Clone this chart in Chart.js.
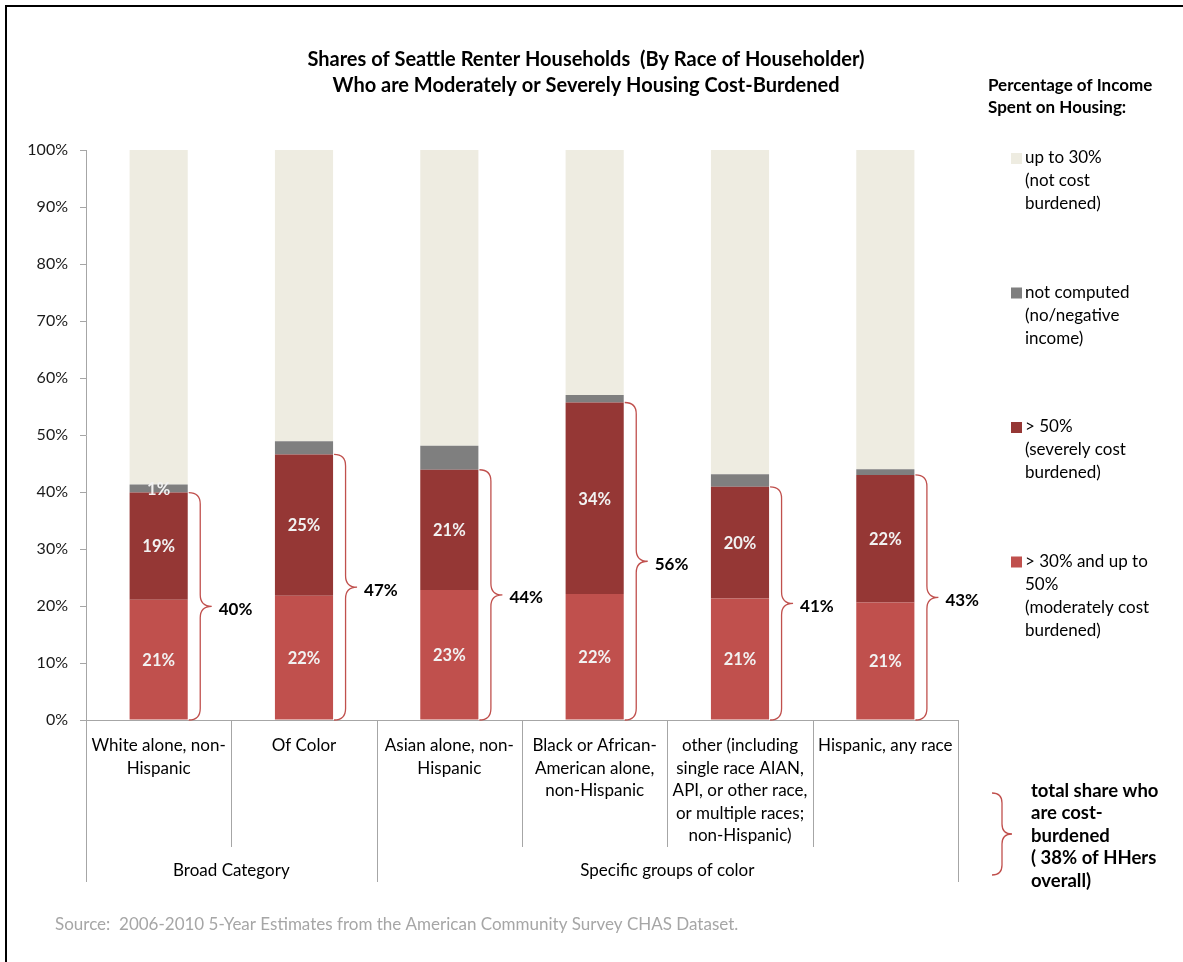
<!DOCTYPE html>
<html>
<head>
<meta charset="utf-8">
<script src="https://cdn.jsdelivr.net/npm/chart.js@4.4.1/dist/chart.umd.min.js"></script>
<style>
  html, body { margin: 0; padding: 0; background: #fff; }
  canvas { display: block; }
</style>
</head>
<body>
<canvas id="myChart" width="1183" height="962"></canvas>
<script>
// Data
const categories = [
	["White alone, non-", "Hispanic"],
	["Of Color"],
	["Asian alone, non-", "Hispanic"],
	["Black or African-", "American alone,", "non-Hispanic"],
	["other (including", "single race AIAN,", "API, or other race,", "or multiple races;", "non-Hispanic)"],
	["Hispanic, any race"],
];
const groups = ["Broad Category", "Specific groups of color"];
const groupSizes = [2, 4];

const moderate = [21.1, 21.8, 22.8, 22.1, 21.3, 20.6];
const severe = [18.8, 24.8, 21.1, 33.6, 19.6, 22.4];
const notComputed = [1.4, 2.3, 4.2, 1.3, 2.2, 1.0];
const upTo30 = moderate.map((m, i) => 100 - m - severe[i] - notComputed[i]);
const notComputedLabels = ["1%", "", "", "", "", ""];

const yTicks = [0, 10, 20, 30, 40, 50, 60, 70, 80, 90, 100];

const legendTitle = ["Percentage of Income", "Spent on Housing:"];
const legendLabels = [
	["up to 30%", "(not cost", "burdened)"],
	["not computed", "(no/negative", "income)"],
	["> 50%", "(severely cost", "burdened)"],
	["> 30% and up to", "50%", "(moderately cost", "burdened)"],
];
const braceNote = ["total share who", "are cost-", "burdened", "( 38% of HHers", "overall)"];
const titleLines = [
	"Shares of Seattle Renter Households  (By Race of Householder)",
	"Who are Moderately or Severely Housing Cost-Burdened",
];
const sourceText = "Source:  2006-2010 5-Year Estimates from the American Community Survey CHAS Dataset.";

const colors = {
	upTo30: "#EEECE1",
	notComputed: "#7F7F7F",
	severe: "#953735",
	moderate: "#C0504D",
};
const FONT = "Lato, 'Open Sans', sans-serif";

// draws a curly brace opening to the left
function drawBrace(ctx, x, y1, y2, w) {
	const r = w / 2;
	const ym = (y1 + y2) / 2;
	ctx.beginPath();
	ctx.moveTo(x, y1);
	ctx.quadraticCurveTo(x + r, y1, x + r, y1 + r);
	ctx.lineTo(x + r, ym - r);
	ctx.quadraticCurveTo(x + r, ym, x + w, ym);
	ctx.quadraticCurveTo(x + r, ym, x + r, ym + r);
	ctx.lineTo(x + r, y2 - r);
	ctx.quadraticCurveTo(x + r, y2, x, y2);
	ctx.stroke();
}

const extras = {
	id: "extras",
	afterDraw(chart) {
		const ctx = chart.ctx;
		const area = chart.chartArea;
		const xs = chart.scales.x;
		const ys = chart.scales.y;
		const step = (area.right - area.left) / categories.length;
		ctx.save();

		// frame (top and left edges)
		ctx.fillStyle = "#000";
		ctx.fillRect(5, 5, 1183, 2);
		ctx.fillRect(5, 5, 2, 962);

		// title
		ctx.fillStyle = "#000";
		ctx.font = "bold 20px " + FONT;
		ctx.textAlign = "center";
		ctx.textBaseline = "middle";
		ctx.fillText(titleLines[0], 586, 60);
		ctx.fillText(titleLines[1], 586, 86);

		// category axis table
		ctx.strokeStyle = "#A6A6A6";
		ctx.lineWidth = 1;
		ctx.beginPath();
		ctx.moveTo(area.left, area.bottom + 0.5);
		ctx.lineTo(area.right, area.bottom + 0.5);
		let idx = 0;
		const outer = [0];
		groupSizes.forEach((n) => { idx += n; outer.push(idx); });
		for (let i = 0; i <= categories.length; i++) {
			const x = Math.round(area.left + i * step) + 0.5;
			ctx.moveTo(x, area.bottom);
			ctx.lineTo(x, outer.includes(i) ? 882 : 847);
		}
		ctx.stroke();

		ctx.fillStyle = "#000";
		ctx.font = "17px " + FONT;
		categories.forEach((lines, i) => {
			const cx = xs.getPixelForValue(i);
			lines.forEach((t, j) => ctx.fillText(t, cx, 746 + j * 22.4));
		});
		let start = 0;
		groups.forEach((g, k) => {
			const x0 = area.left + start * step;
			const x1 = area.left + (start + groupSizes[k]) * step;
			ctx.fillText(g, (x0 + x1) / 2, 871);
			start += groupSizes[k];
		});

		// data labels inside bars
		ctx.font = "bold 16.5px " + FONT;
		ctx.fillStyle = "#F2F2F2";
		[0, 1].forEach((d) => {
			chart.getDatasetMeta(d).data.forEach((bar, i) => {
				const v = chart.data.datasets[d].data[i];
				ctx.fillText(Math.round(v) + "%", bar.x, (bar.y + bar.base) / 2 + 1);
			});
		});
		chart.getDatasetMeta(2).data.forEach((bar, i) => {
			if (notComputedLabels[i]) ctx.fillText(notComputedLabels[i], bar.x, (bar.y + bar.base) / 2 + 1);
		});

		// braces and totals
		ctx.strokeStyle = "#C0504D";
		ctx.lineWidth = 1.3;
		ctx.textAlign = "left";
		ctx.fillStyle = "#000";
		ctx.font = "bold 17px " + FONT;
		chart.getDatasetMeta(1).data.forEach((bar, i) => {
			const xr = bar.x + bar.width / 2;
			const top = bar.y;
			const bottom = ys.getPixelForValue(0);
			drawBrace(ctx, xr + 1, top, bottom, 23);
			const total = Math.round(moderate[i] + severe[i]);
			ctx.fillText(total + "%", xr + 31, (top + bottom) / 2 + 3);
		});

		// legend
		ctx.font = "bold 17px " + FONT;
		ctx.fillText(legendTitle[0], 988, 86);
		ctx.fillText(legendTitle[1], 988, 108);
		const swatch = [colors.upTo30, colors.notComputed, colors.severe, colors.moderate];
		ctx.font = "17px " + FONT;
		legendLabels.forEach((lines, k) => {
			const y0 = 158 + k * 134.5;
			ctx.fillStyle = swatch[k];
			ctx.fillRect(1011, y0 - 5, 11, 11);
			ctx.fillStyle = "#000";
			lines.forEach((t, j) => ctx.fillText(t, 1025, y0 + j * 23));
		});

		// note brace at bottom right
		drawBrace(ctx, 992, 793, 875, 20);
		ctx.font = "bold 18.5px " + FONT;
		braceNote.forEach((t, j) => ctx.fillText(t, 1031, 791 + j * 22.5));

		// source
		ctx.font = "17px " + FONT;
		ctx.fillStyle = "#A6A6A6";
		ctx.fillText(sourceText, 55, 925);

		ctx.restore();
	},
};

const data = {
	labels: categories,
	datasets: [
		{ label: "> 30% and up to 50% (moderately cost burdened)", data: moderate, backgroundColor: colors.moderate },
		{ label: "> 50% (severely cost burdened)", data: severe, backgroundColor: colors.severe },
		{ label: "not computed (no/negative income)", data: notComputed, backgroundColor: colors.notComputed },
		{ label: "up to 30% (not cost burdened)", data: upTo30, backgroundColor: colors.upTo30 },
	],
};

const config = {
	type: "bar",
	data: data,
	options: {
		responsive: false,
		animation: false,
		barPercentage: 0.4,
		categoryPercentage: 1.0,
		layout: { padding: { left: 26, right: 225, top: 150, bottom: 242 } },
		plugins: {
			legend: { display: false },
			tooltip: { enabled: false },
		},
		scales: {
			x: { stacked: true, display: false },
			y: {
				stacked: true,
				min: 0,
				max: 100,
				afterFit: (s) => { s.width = 60; },
				afterBuildTicks: (s) => { s.ticks = yTicks.map((v) => ({ value: v })); },
				ticks: {
					callback: (v) => v + "%",
					color: "#1a1a1a",
					padding: 12,
					font: { family: FONT, size: 16 },
				},
				grid: { display: true, drawOnChartArea: false, drawTicks: true, tickLength: 6, color: "#A6A6A6" },
				border: { display: true, color: "#A6A6A6" },
			},
		},
	},
	plugins: [extras],
};

var myChart = new Chart(document.getElementById("myChart"), config);
</script>
</body>
</html>
